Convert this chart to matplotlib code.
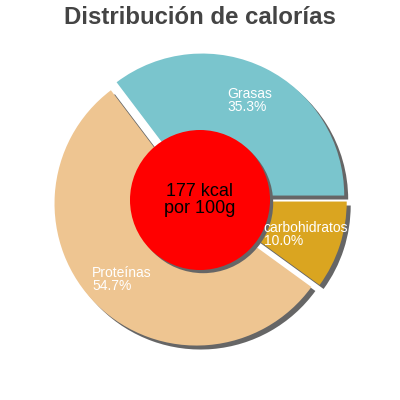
import matplotlib
matplotlib.use("Agg")
import matplotlib.pyplot as plt
from matplotlib.patches import Circle
import numpy as np

plt.rcParams['font.family'] = ['Liberation Sans', 'DejaVu Sans']

# data
labels = ['Grasas', 'Proteínas', 'carbohidratos']
values = [35.3, 54.7, 10.0]
colors = ['#7AC5CD', '#EEC591', '#DAA520']
kcal_text = '177 kcal\npor 100g'
title = 'Distribución de calorías'

fig = plt.figure(figsize=(4, 4), dpi=100)
ax = fig.add_axes([0, 0, 1, 1])
lim = 200 / 142.0

expl = [0.035, 0.035, 0.035]
sh = (0.028, -0.028)
shadow_col = '#666666'

# shadow first, then the real slices on top
ax.pie(values, explode=expl, startangle=0, counterclock=True,
       colors=[shadow_col] * 3, radius=1, center=sh,
       wedgeprops=dict(linewidth=0), frame=True)
wedges, _ = ax.pie(values, explode=expl, startangle=0, counterclock=True,
                   colors=colors, radius=1, center=(0, 0),
                   wedgeprops=dict(linewidth=0), frame=True)
ax.set_xlim(-lim, lim)
ax.set_ylim(-lim, lim)
ax.set_aspect('equal')
ax.axis('off')

# center disc
ax.add_patch(Circle((sh[0] * 0.8, sh[1] * 0.8), 0.493, color=shadow_col, lw=0, zorder=3))
ax.add_patch(Circle((0, 0), 0.493, color='red', lw=0, zorder=4))
ax.text(0, 0, kcal_text, ha='center', va='center', fontsize=13,
        color='black', zorder=5, linespacing=1.0)

tot = sum(values)
for w, lab, v in zip(wedges, labels, values):
    mid = np.deg2rad((w.theta1 + w.theta2) / 2)
    cx, cy = w.center
    x = cx + 0.75 * np.cos(mid)
    y = cy + 0.75 * np.sin(mid)
    ax.text(x, y, '%s\n%.1f%%' % (lab, 100 * v / tot), color='white',
            fontsize=10, ha='center', va='center', multialignment='left',
            linespacing=0.9, zorder=6)

fig.text(0.5, 1 - 24.5 / 400, title, ha='center', va='baseline',
         fontsize=17.3, fontweight='bold', color='#444444')

fig.savefig('out.png', dpi=100)
